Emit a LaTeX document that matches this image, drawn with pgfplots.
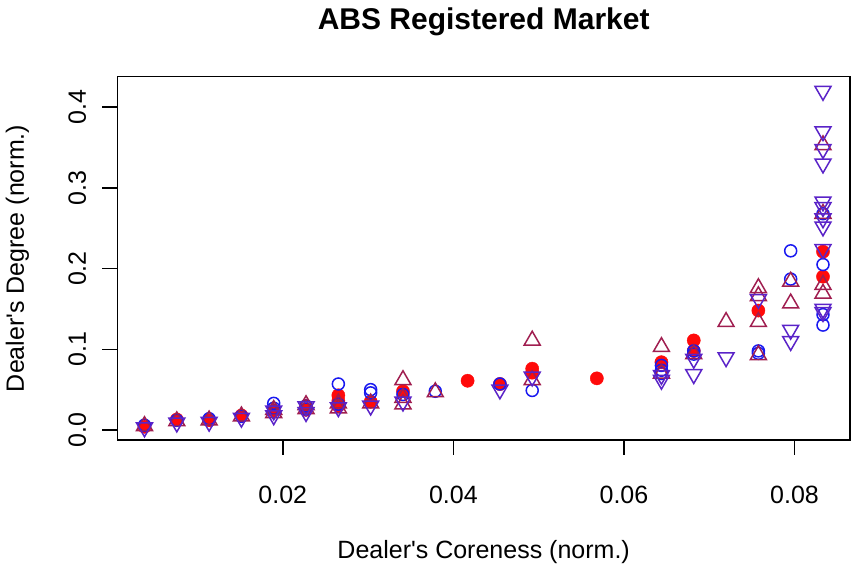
\documentclass[border=0pt]{standalone}
\usepackage{pgfplots}
\pgfplotsset{compat=1.18}
\usepackage{fontspec}
\setmainfont{Liberation Sans}

\definecolor{circblue}{RGB}{25,25,240}
\definecolor{dotred}{RGB}{255,10,10}
\definecolor{upcol}{RGB}{160,30,80}
\definecolor{downcol}{RGB}{90,35,200}

\begin{document}
\begin{tikzpicture}
\path[use as bounding box] (0pt,0pt) rectangle (853pt,564pt);
\begin{axis}[
  at={(117.3pt,124pt)}, anchor=south west,
  width=732.7pt, height=363.3pt, scale only axis,
  xmin=0.0006, xmax=0.0865, ymin=-0.0124, ymax=0.4378,
  enlargelimits=false,
  axis line style={line width=1.5pt, black},
  tick align=outside, xtick pos=bottom, ytick pos=left,
  major tick length=15pt,
  tick style={line width=1.5pt, black},
  xtick={0.02,0.04,0.06,0.08},
  ytick={0,0.1,0.2,0.3,0.4},
  scaled ticks=false,
  /pgf/number format/assume math mode=true,
  xticklabel={\pgfmathprintnumber[fixed,fixed zerofill,precision=2]{\tick}},
  yticklabel={\pgfmathprintnumber[fixed,fixed zerofill,precision=1]{\tick}},
  tick label style={font=\fontsize{25}{30}\selectfont},
  xticklabel style={anchor=center, yshift=-40pt},
  yticklabel style={rotate=90, anchor=center, yshift=25pt},
  label style={font=\fontsize{25}{30}\selectfont},
  xlabel={Dealer\textquotesingle s Coreness (norm.)},
  ylabel={Dealer\textquotesingle s Degree (norm.)},
  xlabel style={at={(axis description cs:0.5,0)}, anchor=center, yshift=-112pt},
  ylabel style={at={(axis description cs:0,0.5)}, anchor=center, yshift=100pt},
  clip=false,
]
% filled red points
\addplot[only marks, mark=*, mark size=6.6pt, color=dotred, mark options={fill=dotred, draw=dotred, line width=0.4pt}]
coordinates {
(0.003788,0.004) (0.007576,0.013) (0.011364,0.012) (0.015152,0.018)
(0.018939,0.024) (0.022727,0.025)
(0.026515,0.043) (0.026515,0.036) (0.026515,0.030)
(0.030303,0.035) (0.034091,0.048) (0.041667,0.061) (0.045455,0.057)
(0.049242,0.076) (0.049242,0.071) (0.056818,0.064) (0.064394,0.084)
(0.068182,0.111) (0.068182,0.098) (0.075758,0.148)
(0.083333,0.221) (0.083333,0.190)
};
% open blue circles
\addplot[only marks, mark=o, mark size=6pt, color=circblue, mark options={line width=1.5pt}]
coordinates {
(0.003788,0.006) (0.007576,0.012) (0.011364,0.014) (0.015152,0.017)
(0.018939,0.033) (0.018939,0.027)
(0.022727,0.030) (0.022727,0.026)
(0.026515,0.057) (0.026515,0.032)
(0.030303,0.050) (0.030303,0.046)
(0.034091,0.044) (0.037879,0.048) (0.045455,0.057) (0.049242,0.049)
(0.064394,0.080) (0.064394,0.074) (0.064394,0.070)
(0.068182,0.098) (0.068182,0.094)
(0.075758,0.098) (0.075758,0.095)
(0.079545,0.222) (0.079545,0.187)
(0.083333,0.268) (0.083333,0.205) (0.083333,0.143) (0.083333,0.130)
};
% upward triangles
\addplot[only marks, mark=triangle, mark size=9.2pt, color=upcol, mark options={line width=1.5pt}]
coordinates {
(0.003788,0.005) (0.007576,0.011) (0.011364,0.012) (0.015152,0.017)
(0.018939,0.025) (0.018939,0.021)
(0.022727,0.031) (0.022727,0.026)
(0.026515,0.033) (0.026515,0.027)
(0.030303,0.033)
(0.034091,0.062) (0.034091,0.040) (0.034091,0.032)
(0.037879,0.047)
(0.049242,0.111) (0.049242,0.062)
(0.064394,0.103) (0.064394,0.070)
(0.068182,0.094) (0.071970,0.134)
(0.075758,0.176) (0.075758,0.166) (0.075758,0.134) (0.075758,0.093)
(0.079545,0.184) (0.079545,0.157)
(0.083333,0.353) (0.083333,0.268) (0.083333,0.180) (0.083333,0.169)
};
% downward triangles
\addplot[only marks, mark=triangle, mark size=9.2pt, color=downcol, mark options={line width=1.5pt, rotate=180}]
coordinates {
(0.003788,0.003) (0.007576,0.009) (0.011364,0.010) (0.015152,0.015)
(0.018939,0.018) (0.018939,0.024)
(0.022727,0.022) (0.022727,0.029)
(0.026515,0.028) (0.030303,0.030) (0.034091,0.035)
(0.045455,0.050) (0.049242,0.066)
(0.064394,0.062) (0.064394,0.068)
(0.068182,0.088) (0.068182,0.069)
(0.071970,0.090) (0.075758,0.162)
(0.079545,0.124) (0.079545,0.110)
(0.083333,0.420) (0.083333,0.370) (0.083333,0.348) (0.083333,0.330)
(0.083333,0.283) (0.083333,0.276) (0.083333,0.262) (0.083333,0.252)
(0.083333,0.224) (0.083333,0.150) (0.083333,0.146)
};
\end{axis}
\node[font=\bfseries\fontsize{30}{36}\selectfont] at (483.7pt,542pt) {ABS Registered Market};
\end{tikzpicture}
\end{document}
